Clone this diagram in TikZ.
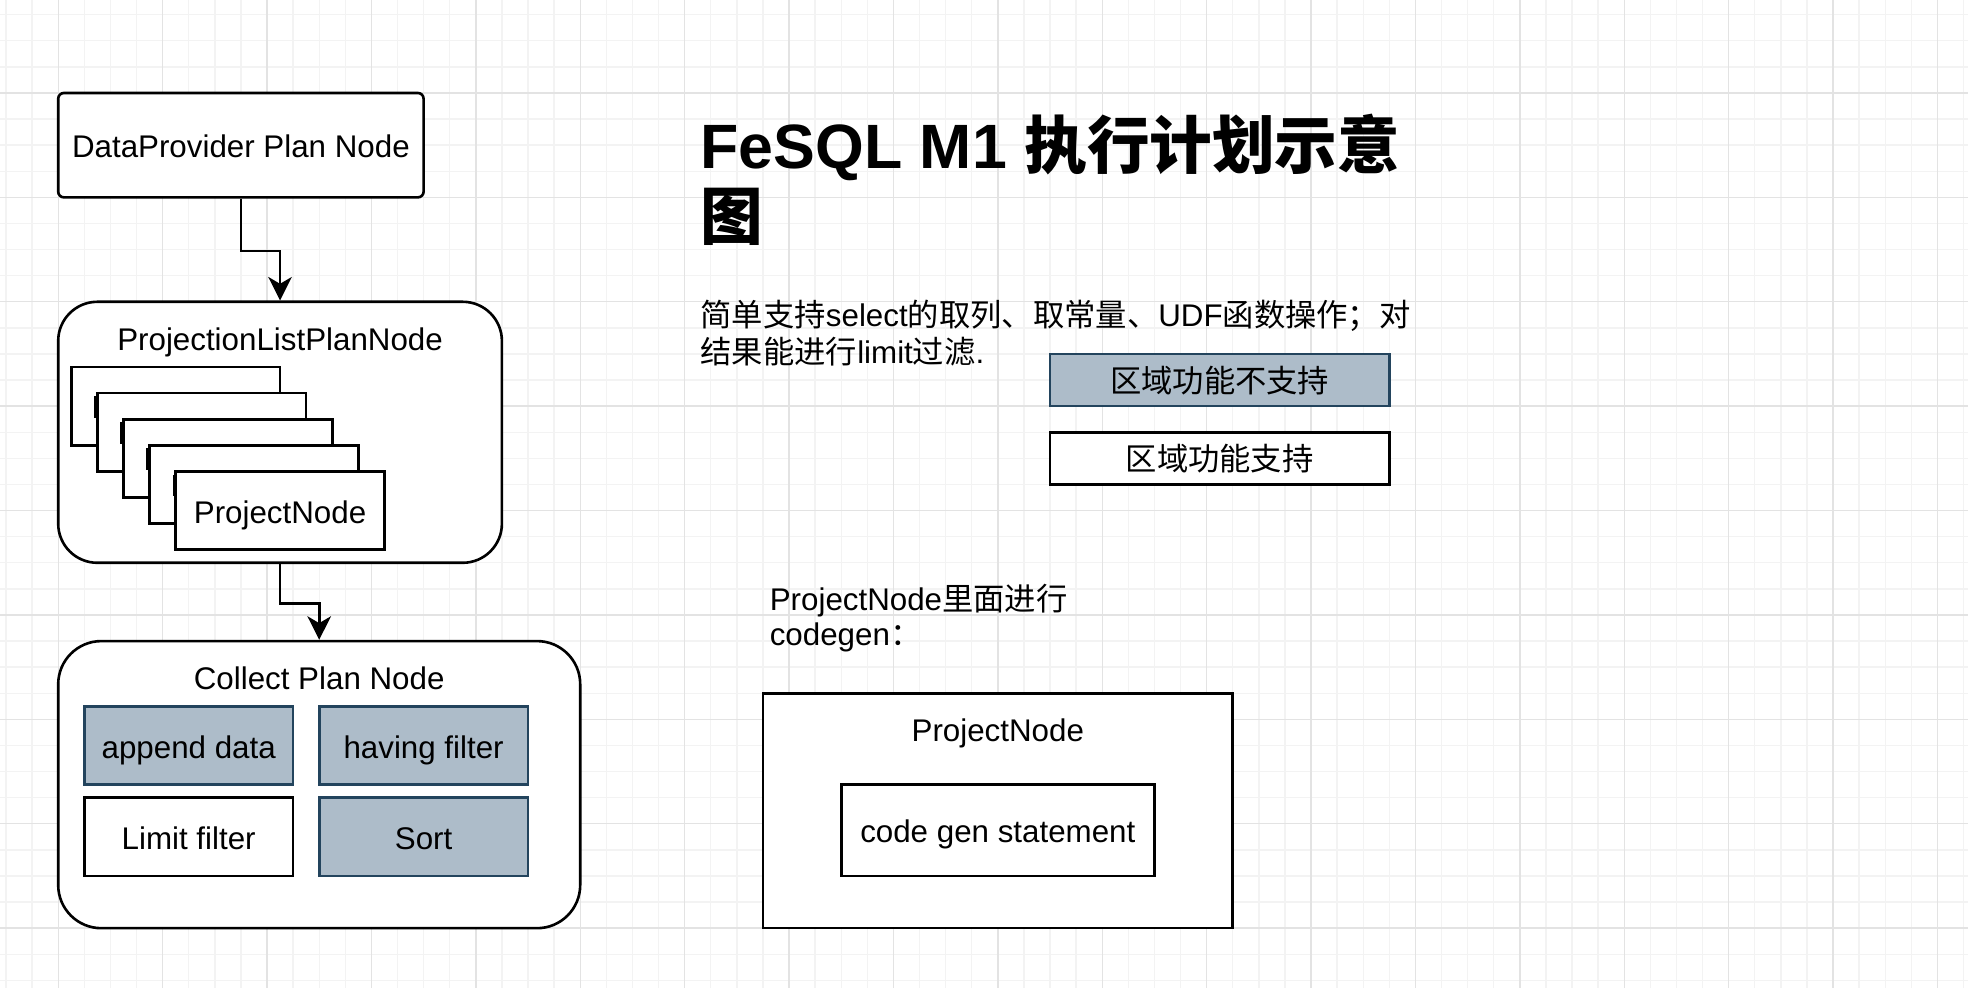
\documentclass[tikz,border=0pt]{standalone}
\usepackage{fontspec}
\setmainfont{Liberation Sans}
\newfontfamily\cjk{Noto Sans CJK SC}
\usetikzlibrary{arrows.meta}
\definecolor{boxfill}{HTML}{ADBCC9}
\definecolor{boxline}{HTML}{23445D}
\definecolor{gridminor}{HTML}{F3F3F3}
\definecolor{gridmajor}{HTML}{E3E3E3}
\newdimen\du \du=1.3pt
\tikzset{
  box/.style={draw=black, fill=white, line width=1.3pt, inner sep=0pt, text height=12.5pt, text depth=0pt, align=center},
  graybox/.style={box, draw=boxline, fill=boxfill},
  lbl/.style={inner sep=0pt, anchor=base},
  txt/.style={inner sep=0pt, anchor=base west},
  arr/.style={line width=1.3pt, -{Stealth[length=11.7pt, width=11.7pt, inset=3.4pt]}},
  gminor/.style={draw=gridminor, line width=0.7pt},
  gmajor/.style={draw=gridmajor, line width=0.7pt},
}
\begin{document}
\begin{tikzpicture}[x=1.3pt, y=-1.3pt, font=\fontsize{15.6}{18.72}\selectfont]
\useasboundingbox (-22.3,-35.63) rectangle (731.72,342.91);
\fill[white] (-22.3,-35.63) rectangle (731.72,342.91);
% grid
\foreach \x in {-20,-10,...,730} \draw[gminor] (\x,-35.63) -- (\x,342.91);
\foreach \y in {-30,-20,...,340} \draw[gminor] (-22.3,\y) -- (731.72,\y);
\foreach \x in {0,40,...,720} \draw[gmajor] (\x,-35.63) -- (\x,342.91);
\foreach \y in {0,40,...,320} \draw[gmajor] (-22.3,\y) -- (731.72,\y);

% left column
\node[box, rounded corners=2.86pt, minimum width=140\du, minimum height=40\du] (dp) at (70,20) {DataProvider Plan Node};

\node[box, rounded corners=19.5pt, minimum width=170\du, minimum height=100\du] (plist) at (85,130) {};
\node[lbl] (plistlbl) at (85,98.5) {ProjectionListPlanNode};
\node[box, minimum width=80\du, minimum height=30\du] (pn0) at (45,120) {};
\node[box, minimum width=80\du, minimum height=30\du] (pn1) at (55,130) {};
\node[box, minimum width=80\du, minimum height=30\du] (pn2) at (65,140) {};
\node[box, minimum width=80\du, minimum height=30\du] (pn3) at (75,150) {};
\node[box, minimum width=80\du, minimum height=30\du] (pn4) at (85,160) {ProjectNode};
\foreach \k in {1,2,3,4} \fill[black] (5+10*\k-1.2,105+10*\k+1.2) rectangle (5+10*\k+0.4,105+10*\k+9.5);

\node[box, rounded corners=21.5pt, minimum width=200\du, minimum height=110\du] (collect) at (100,265) {};
\node[lbl] (collectlbl) at (100,228.6) {Collect Plan Node};
\node[graybox, minimum width=80\du, minimum height=30\du] (append) at (50,250) {append data};
\node[graybox, minimum width=80\du, minimum height=30\du] (having) at (140,250) {having filter};
\node[box, minimum width=80\du, minimum height=30\du] (limit) at (50,285) {Limit filter};
\node[graybox, minimum width=80\du, minimum height=30\du] (sort) at (140,285) {Sort};

\draw[arr] (dp.south) -- ++(0,20) -| (plist.north);
\draw[arr] (plist.south) -- ++(0,15) -| (collect.north);

% right side
\node[txt, font=\bfseries\fontsize{31.2}{37.44}\selectfont] (title1) at (246,29) {FeSQL M1 {\cjk 执行计划示意}};
\node[txt, font=\bfseries\fontsize{31.2}{37.44}\selectfont] (title2) at (246,56) {\cjk 图};
\node[txt] (para1) at (246,89.6) {{\cjk 简单支持}select{\cjk 的取列、取常量、}UDF{\cjk 函数操作；对}};
\node[txt] (para2) at (246,103.8) {{\cjk 结果能进行}limit{\cjk 过滤}.};

\node[graybox, minimum width=130\du, minimum height=20\du] (leg1) at (445,110) {\cjk 区域功能不支持};
\node[box, minimum width=130\du, minimum height=20\du] (leg2) at (445,140) {\cjk 区域功能支持};

\node[txt] (note1) at (272.5,198.2) {ProjectNode{\cjk 里面进行}};
\node[txt] (note2) at (272.5,211.7) {codegen{\cjk ：}};

\node[box, minimum width=180\du, minimum height=90\du] (pnbig) at (360,275) {};
\node[lbl] (pnbiglbl) at (360,248.5) {ProjectNode};
\node[box, minimum width=120\du, minimum height=35\du] (cg) at (360,282.5) {code gen statement};
\end{tikzpicture}
\end{document}
